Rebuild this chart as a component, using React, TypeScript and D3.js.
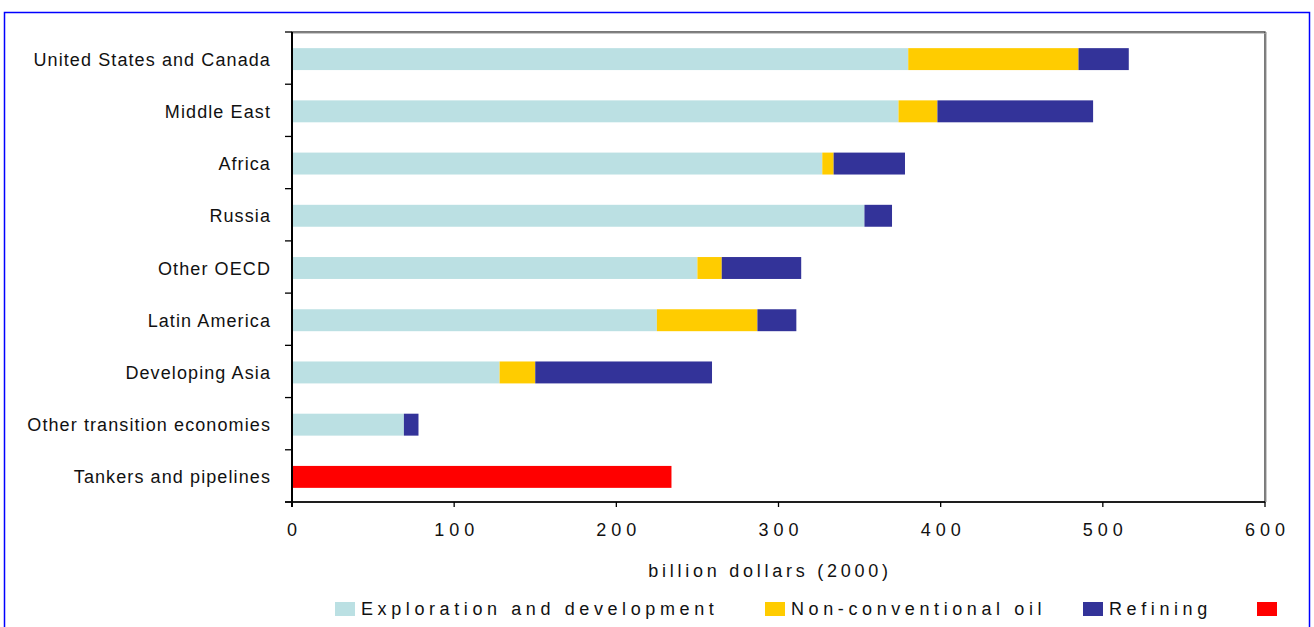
import React from "react";
import * as d3 from "d3";

const categories = [
  "United States and Canada",
  "Middle East",
  "Africa",
  "Russia",
  "Other OECD",
  "Latin America",
  "Developing Asia",
  "Other transition economies",
  "Tankers and pipelines",
];
const exploration = [380, 374, 327, 353, 250, 225, 128, 69, 0];
const nonConventional = [105, 24, 7, 0, 15, 62, 22, 0, 0];
const refining = [31, 96, 44, 17, 49, 24, 109, 9, 0];
const tankers = [0, 0, 0, 0, 0, 0, 0, 0, 234];
const seriesNames = ["Exploration and development", "Non-conventional oil", "Refining", ""];
const seriesColors = ["#BBE0E3", "#FFCC00", "#333399", "#FF0000"];
const xTicks = [0, 100, 200, 300, 400, 500, 600];
const xTitle = "billion dollars (2000)";

const W = 1314;
const H = 627;
const M = { left: 292, right: 1265, top: 32, bottom: 502 };
const FONT = "'Liberation Sans', Arial, sans-serif";

export default function App() {
  const rows = categories.map((c, i) => ({
    cat: c,
    s0: exploration[i],
    s1: nonConventional[i],
    s2: refining[i],
    s3: tankers[i],
  }));
  const keys = ["s0", "s1", "s2", "s3"];
  const stacked = d3.stack<any>().keys(keys)(rows);

  const x = d3.scaleLinear().domain([0, 600]).range([M.left, M.right]);
  const y = d3
    .scaleBand<string>()
    .domain(categories)
    .range([M.top + 1, M.bottom + 1])
    .paddingInner(0.58)
    .paddingOuter(0.29);
  const step = (M.bottom - M.top) / categories.length;
  const boundaries = d3.range(categories.length + 1).map((i) => M.top + i * step);

  const legendX = [335, 765, 1083, 1257];
  const swW = 20;

  return (
    <svg
      width={W}
      height={H}
      style={{ position: "absolute", left: 0, top: 0, background: "#fff" }}
      fontFamily={FONT}
    >
      <rect x={0} y={0} width={W} height={H} fill="#fff" />
      <rect x={4.5} y={12.5} width={1305} height={640} fill="none" stroke="#0000FF" strokeWidth={1.5} />

      {/* plot frame */}
      <rect
        x={M.left}
        y={M.top}
        width={M.right - M.left}
        height={M.bottom - M.top}
        fill="none"
        stroke="#222"
        strokeWidth={1.2}
      />
      <line x1={M.left} x2={M.right + 1.5} y1={M.top + 1.3} y2={M.top + 1.3} stroke="#aaa" strokeWidth={0.8} />
      <line x1={M.right + 1.3} x2={M.right + 1.3} y1={M.top} y2={M.bottom} stroke="#aaa" strokeWidth={0.8} />

      {/* bars */}
      {stacked.map((layer, li) => (
        <g key={li} fill={seriesColors[li]}>
          {layer.map((d, i) =>
            d[1] - d[0] > 0 ? (
              <rect
                key={i}
                x={x(d[0])}
                y={y(categories[i])!}
                width={x(d[1]) - x(d[0])}
                height={y.bandwidth()}
              />
            ) : null
          )}
        </g>
      ))}

      {/* axes */}
      <line x1={M.left} x2={M.left} y1={M.top} y2={M.bottom + 5} stroke="#000" strokeWidth={2} />
      <line x1={M.left - 7} x2={M.right} y1={M.bottom} y2={M.bottom} stroke="#000" strokeWidth={1.5} />
      {boundaries.map((b, i) => (
        <line key={i} x1={M.left - 7} x2={M.left} y1={b} y2={b} stroke="#000" strokeWidth={1.3} />
      ))}
      {xTicks.map((t) => (
        <g key={t}>
          <line x1={x(t)} x2={x(t)} y1={M.bottom} y2={M.bottom + 5} stroke="#000" strokeWidth={1.3} />
          <text
            x={x(t) + 2.5}
            y={536}
            textAnchor="middle"
            fontSize={18}
            letterSpacing={5}
            fill="#111"
          >
            {t}
          </text>
        </g>
      ))}

      {/* category labels */}
      {categories.map((c) => (
        <text
          key={c}
          x={271}
          y={y(c)! + y.bandwidth() / 2 + 6.5}
          textAnchor="end"
          fontSize={18}
          letterSpacing={1.1}
          fill="#111"
        >
          {c}
        </text>
      ))}

      <text x={770} y={577} textAnchor="middle" fontSize={18} letterSpacing={3.75} fill="#111">
        {xTitle}
      </text>

      {/* legend */}
      {seriesNames.map((n, i) => (
        <g key={i}>
          <rect x={legendX[i]} y={602} width={swW} height={14} fill={seriesColors[i]} />
          <text x={legendX[i] + swW + 6} y={615} fontSize={18} letterSpacing={4.6} fill="#111">
            {n}
          </text>
        </g>
      ))}
    </svg>
  );
}
